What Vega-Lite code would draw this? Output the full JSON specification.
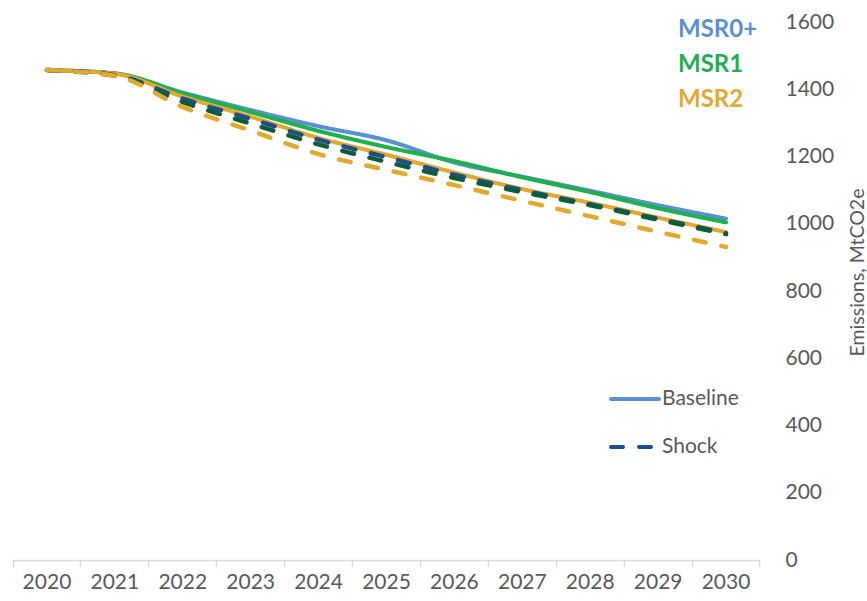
{
  "$schema": "https://vega.github.io/schema/vega-lite/v6.json",
  "width": 747,
  "height": 538,
  "autosize": {"type": "none"},
  "padding": {"left": 13, "top": 22, "right": 107, "bottom": 41},
  "background": "white",
  "config": {
    "view": {"stroke": null},
    "font": "Lato",
    "axis": {"labelFont": "Lato", "titleFont": "Lato", "labelColor": "#595959", "titleColor": "#595959"},
    "legend": {"labelFont": "Lato"}
  },
  "data": {
    "values": [
      {"year": "2020", "scenario": "MSR0+", "case": "Baseline", "value": 1457},
      {"year": "2021", "scenario": "MSR0+", "case": "Baseline", "value": 1447},
      {"year": "2022", "scenario": "MSR0+", "case": "Baseline", "value": 1390},
      {"year": "2023", "scenario": "MSR0+", "case": "Baseline", "value": 1338},
      {"year": "2024", "scenario": "MSR0+", "case": "Baseline", "value": 1290},
      {"year": "2025", "scenario": "MSR0+", "case": "Baseline", "value": 1248},
      {"year": "2026", "scenario": "MSR0+", "case": "Baseline", "value": 1182},
      {"year": "2027", "scenario": "MSR0+", "case": "Baseline", "value": 1140},
      {"year": "2028", "scenario": "MSR0+", "case": "Baseline", "value": 1098},
      {"year": "2029", "scenario": "MSR0+", "case": "Baseline", "value": 1055},
      {"year": "2030", "scenario": "MSR0+", "case": "Baseline", "value": 1015},
      {"year": "2020", "scenario": "MSR1", "case": "Baseline", "value": 1457},
      {"year": "2021", "scenario": "MSR1", "case": "Baseline", "value": 1447},
      {"year": "2022", "scenario": "MSR1", "case": "Baseline", "value": 1388},
      {"year": "2023", "scenario": "MSR1", "case": "Baseline", "value": 1332},
      {"year": "2024", "scenario": "MSR1", "case": "Baseline", "value": 1276},
      {"year": "2025", "scenario": "MSR1", "case": "Baseline", "value": 1228},
      {"year": "2026", "scenario": "MSR1", "case": "Baseline", "value": 1186},
      {"year": "2027", "scenario": "MSR1", "case": "Baseline", "value": 1138},
      {"year": "2028", "scenario": "MSR1", "case": "Baseline", "value": 1094},
      {"year": "2029", "scenario": "MSR1", "case": "Baseline", "value": 1046},
      {"year": "2030", "scenario": "MSR1", "case": "Baseline", "value": 1004},
      {"year": "2020", "scenario": "MSR2", "case": "Baseline", "value": 1457},
      {"year": "2021", "scenario": "MSR2", "case": "Baseline", "value": 1446},
      {"year": "2022", "scenario": "MSR2", "case": "Baseline", "value": 1378},
      {"year": "2023", "scenario": "MSR2", "case": "Baseline", "value": 1318},
      {"year": "2024", "scenario": "MSR2", "case": "Baseline", "value": 1255},
      {"year": "2025", "scenario": "MSR2", "case": "Baseline", "value": 1205},
      {"year": "2026", "scenario": "MSR2", "case": "Baseline", "value": 1152},
      {"year": "2027", "scenario": "MSR2", "case": "Baseline", "value": 1103},
      {"year": "2028", "scenario": "MSR2", "case": "Baseline", "value": 1062},
      {"year": "2029", "scenario": "MSR2", "case": "Baseline", "value": 1018},
      {"year": "2030", "scenario": "MSR2", "case": "Baseline", "value": 975},
      {"year": "2020", "scenario": "MSR0+", "case": "Shock", "value": 1457},
      {"year": "2021", "scenario": "MSR0+", "case": "Shock", "value": 1442},
      {"year": "2022", "scenario": "MSR0+", "case": "Shock", "value": 1372},
      {"year": "2023", "scenario": "MSR0+", "case": "Shock", "value": 1312},
      {"year": "2024", "scenario": "MSR0+", "case": "Shock", "value": 1250},
      {"year": "2025", "scenario": "MSR0+", "case": "Shock", "value": 1198},
      {"year": "2026", "scenario": "MSR0+", "case": "Shock", "value": 1146},
      {"year": "2027", "scenario": "MSR0+", "case": "Shock", "value": 1100},
      {"year": "2028", "scenario": "MSR0+", "case": "Shock", "value": 1058},
      {"year": "2029", "scenario": "MSR0+", "case": "Shock", "value": 1015},
      {"year": "2030", "scenario": "MSR0+", "case": "Shock", "value": 972},
      {"year": "2020", "scenario": "MSR1", "case": "Shock", "value": 1457},
      {"year": "2021", "scenario": "MSR1", "case": "Shock", "value": 1440},
      {"year": "2022", "scenario": "MSR1", "case": "Shock", "value": 1362},
      {"year": "2023", "scenario": "MSR1", "case": "Shock", "value": 1298},
      {"year": "2024", "scenario": "MSR1", "case": "Shock", "value": 1236},
      {"year": "2025", "scenario": "MSR1", "case": "Shock", "value": 1184},
      {"year": "2026", "scenario": "MSR1", "case": "Shock", "value": 1136},
      {"year": "2027", "scenario": "MSR1", "case": "Shock", "value": 1094},
      {"year": "2028", "scenario": "MSR1", "case": "Shock", "value": 1055},
      {"year": "2029", "scenario": "MSR1", "case": "Shock", "value": 1012},
      {"year": "2030", "scenario": "MSR1", "case": "Shock", "value": 969},
      {"year": "2020", "scenario": "MSR2", "case": "Shock", "value": 1457},
      {"year": "2021", "scenario": "MSR2", "case": "Shock", "value": 1440},
      {"year": "2022", "scenario": "MSR2", "case": "Shock", "value": 1347},
      {"year": "2023", "scenario": "MSR2", "case": "Shock", "value": 1277},
      {"year": "2024", "scenario": "MSR2", "case": "Shock", "value": 1207},
      {"year": "2025", "scenario": "MSR2", "case": "Shock", "value": 1160},
      {"year": "2026", "scenario": "MSR2", "case": "Shock", "value": 1115},
      {"year": "2027", "scenario": "MSR2", "case": "Shock", "value": 1068},
      {"year": "2028", "scenario": "MSR2", "case": "Shock", "value": 1022},
      {"year": "2029", "scenario": "MSR2", "case": "Shock", "value": 976},
      {"year": "2030", "scenario": "MSR2", "case": "Shock", "value": 931}
    ]
  },
  "encoding": {
    "x": {
      "field": "year",
      "type": "ordinal",
      "scale": {"type": "band", "paddingInner": 0, "paddingOuter": 0},
      "axis": {
        "title": null,
        "labelAngle": 0,
        "labelFontSize": 21,
        "labelPadding": 4,
        "bandPosition": 1,
        "tickExtra": true,
        "tickSize": 7,
        "tickColor": "#d9d9d9",
        "tickWidth": 1.5,
        "domainColor": "#d9d9d9",
        "domainWidth": 1.5,
        "grid": false
      }
    },
    "y": {
      "field": "value",
      "type": "quantitative",
      "scale": {"domain": [0, 1600], "nice": false},
      "axis": {
        "orient": "right",
        "values": [0, 200, 400, 600, 800, 1000, 1200, 1400, 1600],
        "format": "d",
        "domain": false,
        "ticks": false,
        "grid": false,
        "labelFontSize": 21,
        "labelPadding": 25,
        "title": "Emissions, MtCO2e",
        "titleAngle": 270,
        "titleFontSize": 19.5,
        "titleFontWeight": "normal",
        "titlePadding": 34,
        "titleY": 250
      }
    },
    "strokeDash": {
      "field": "case",
      "type": "nominal",
      "scale": {"domain": ["Baseline", "Shock"], "range": [[1, 0], [12, 16]]},
      "legend": {
        "title": null,
        "orient": "none",
        "legendX": 596,
        "legendY": 351,
        "padding": 0,
        "symbolType": "stroke",
        "symbolSize": 2304,
        "symbolStrokeWidth": 4,
        "labelFontSize": 21,
        "labelColor": "#595959",
        "labelOffset": 1,
        "rowPadding": 12,
        "encoding": {
          "symbols": {
            "stroke": {"condition": {"test": "datum.value === 'Shock'", "value": "#1F4E8C"}, "value": "#5B8FD3"},
            "strokeCap": {"value": "round"}
          }
        }
      }
    }
  },
  "layer": [
    {
      "transform": [{"filter": "datum.case === 'Baseline'"}],
      "mark": {"type": "line", "strokeWidth": 4, "interpolate": "monotone", "strokeCap": "round"},
      "encoding": {
        "color": {
          "field": "scenario",
          "type": "nominal",
          "scale": {"domain": ["MSR0+", "MSR1", "MSR2"], "range": ["#5B8FD3", "#1DB04E", "#E3A92D"]},
          "legend": {
            "title": null,
            "orient": "none",
            "legendX": 641,
            "legendY": -4,
            "padding": 0,
            "symbolSize": 0,
            "symbolOpacity": 0,
            "labelOffset": 0,
            "labelFontSize": 24,
            "labelFontWeight": "bold",
            "rowPadding": 11,
            "encoding": {
              "labels": {
                "fill": {
                  "condition": [
                    {"test": "datum.value === 'MSR0+'", "value": "#5B8FD3"},
                    {"test": "datum.value === 'MSR1'", "value": "#1DB04E"}
                  ],
                  "value": "#E3A92D"
                }
              }
            }
          }
        }
      }
    },
    {
      "transform": [{"filter": "datum.case === 'Shock'"}],
      "mark": {"type": "line", "strokeWidth": 4.5, "interpolate": "monotone", "strokeCap": "round"},
      "encoding": {
        "color": {
          "field": "scenario",
          "type": "nominal",
          "scale": {"domain": ["MSR0+", "MSR1", "MSR2"], "range": ["#1F4E8C", "#0C5C36", "#E3A92D"]},
          "legend": null
        }
      }
    }
  ],
  "resolve": {"scale": {"color": "independent"}, "legend": {"color": "independent"}}
}
